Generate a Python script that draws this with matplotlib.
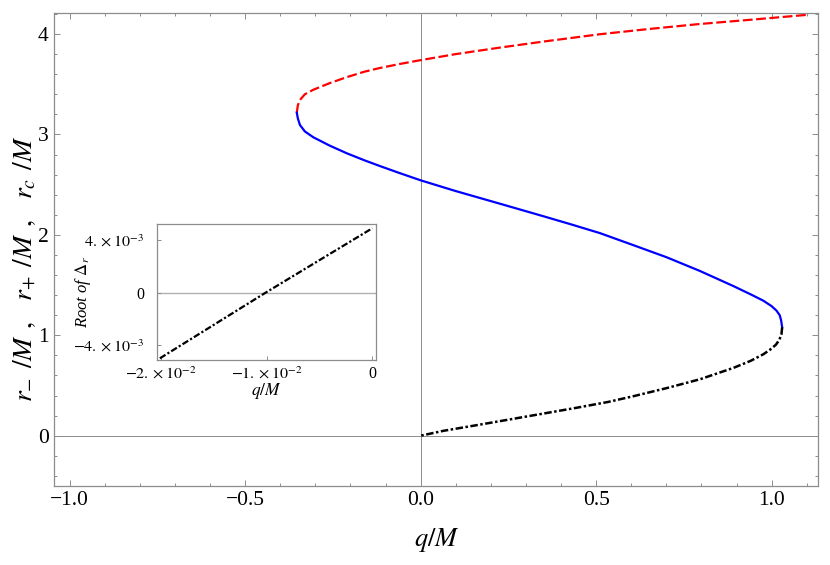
import numpy as np
import matplotlib
matplotlib.use("Agg")
from matplotlib import pyplot as plt
from matplotlib.ticker import MultipleLocator, FixedLocator

plt.rcParams['font.family'] = ['Liberation Serif', 'DejaVu Serif']
plt.rcParams['mathtext.fontset'] = 'stix'

# r_c branch (red dashed), values as (q/M, r/M)
q_red = [-0.353, -0.350, -0.344, -0.330, -0.306, -0.260, -0.211, -0.160, -0.116, -0.059,
         0.0, 0.100, 0.226, 0.350, 0.511, 0.650, 0.796, 0.950, 1.098]
r_red = [3.217, 3.290, 3.343, 3.400, 3.445, 3.510, 3.570, 3.625, 3.662, 3.702,
         3.740, 3.800, 3.865, 3.925, 3.998, 4.050, 4.100, 4.145, 4.190]

# r_+ branch (blue solid)
q_blue = [-0.353, -0.350, -0.344, -0.330, -0.306, -0.260, -0.211, -0.160, -0.116, -0.059,
          0.0, 0.100, 0.226, 0.350, 0.430, 0.511, 0.600, 0.700, 0.796, 0.891,
          0.940, 0.976, 1.000, 1.014, 1.023, 1.027, 1.030]
r_blue = [3.217, 3.160, 3.094, 3.030, 2.972, 2.890, 2.813, 2.742, 2.685, 2.614,
          2.543, 2.436, 2.310, 2.185, 2.103, 2.017, 1.905, 1.778, 1.640, 1.490,
          1.408, 1.345, 1.290, 1.245, 1.200, 1.150, 1.080]

# r_- branch (black dot-dashed)
q_black = [1.030, 1.028, 1.022, 1.012, 0.995, 0.976, 0.940, 0.891, 0.796, 0.701,
           0.606, 0.534, 0.444, 0.349, 0.254, 0.160, 0.064, 0.0]
r_black = [1.080, 1.010, 0.955, 0.905, 0.855, 0.810, 0.745, 0.675, 0.562, 0.474,
           0.393, 0.336, 0.278, 0.220, 0.162, 0.105, 0.048, 0.0]

# inset: root of Delta_r near q = 0
q_inset = [-0.0201, -0.0101, 0.0]
root_inset = [-0.00498, 0.0, 0.00489]

frame_col = '#8c8c8c'
dashdot = (0, (3.0, 1.0, 1.0, 1.0))

fig = plt.figure(figsize=(8.3, 5.65), dpi=100)
ax = fig.add_axes([0.0654, 0.140, 0.9205, 0.8364])

ax.axhline(0, color=frame_col, lw=0.7, zorder=1)
ax.axvline(0, color=frame_col, lw=0.7, zorder=1)

ax.plot(q_red, r_red, color='red', lw=1.6, linestyle=(0, (4.4, 1.6)), zorder=3)
ax.plot(q_blue, r_blue, color='blue', lw=1.6, zorder=3)
ax.plot(q_black, r_black, color='black', lw=1.8, linestyle=dashdot, zorder=3)

ax.set_xlim(-1.044, 1.133)
ax.set_ylim(-0.5, 4.206)
ax.xaxis.set_major_locator(FixedLocator([-1.0, -0.5, 0.0, 0.5, 1.0]))
ax.xaxis.set_minor_locator(MultipleLocator(0.1))
ax.yaxis.set_major_locator(FixedLocator([0, 1, 2, 3, 4]))
ax.yaxis.set_minor_locator(MultipleLocator(0.2))
ax.xaxis.set_major_formatter(matplotlib.ticker.FuncFormatter(
    lambda v, p: ('%.1f' % v).replace('-', '\u2212')))
ax.tick_params(which='both', direction='in', top=True, right=True, color=frame_col,
               labelsize=15.5)
ax.tick_params(which='major', length=4.5, width=0.7, pad=4)
ax.tick_params(which='minor', length=2.5, width=0.7)
for s in ax.spines.values():
    s.set_color(frame_col)
    s.set_linewidth(0.9)

ax.set_xlabel(r'$q/M$', fontsize=19)
ax.xaxis.set_label_coords(0.5, -0.085)
ax.set_ylabel(r'$r_{-}\;\,/M\;\,,\;\;\;r_{+}\;\,/M\;\,,\;\;\;r_{c}\;\,/M$', fontsize=20)
ax.yaxis.set_label_coords(-0.022, 0.46)

# inset
ins = fig.add_axes([0.1888, 0.3623, 0.2642, 0.2407])
ins.axhline(0, color='#b0b0b0', lw=1.0, zorder=1)
ins.plot(q_inset, root_inset, color='black', lw=1.6, linestyle=dashdot, zorder=3)
ins.set_xlim(-0.0204, 0.00035)
ins.set_ylim(-0.00513, 0.00519)
ins.set_xticks([-0.02, -0.01, 0.0])
ins.set_xticklabels([r'$-2.\times10^{-2}$', r'$-1.\times10^{-2}$', '0'])
ins.set_yticks([-0.004, 0.0, 0.004])
ins.set_yticklabels([r'$-4.\times10^{-3}$', '0', r'$4.\times10^{-3}$'])
ins.tick_params(which='both', direction='in', color=frame_col, labelsize=11.5,
                length=3, width=0.7)
ins.tick_params(axis='x', pad=4)
ins.tick_params(axis='y', pad=9)
for s in ins.spines.values():
    s.set_color(frame_col)
    s.set_linewidth(0.9)
ins.set_xlabel(r'$q/M$', fontsize=12.5)
ins.xaxis.set_label_coords(0.5, -0.15)
ins.set_ylabel(r'Root of $\Delta_r$', fontsize=12, style='italic')
ins.yaxis.set_label_coords(-0.29, 0.5)

fig.savefig('out.png', dpi=100)
